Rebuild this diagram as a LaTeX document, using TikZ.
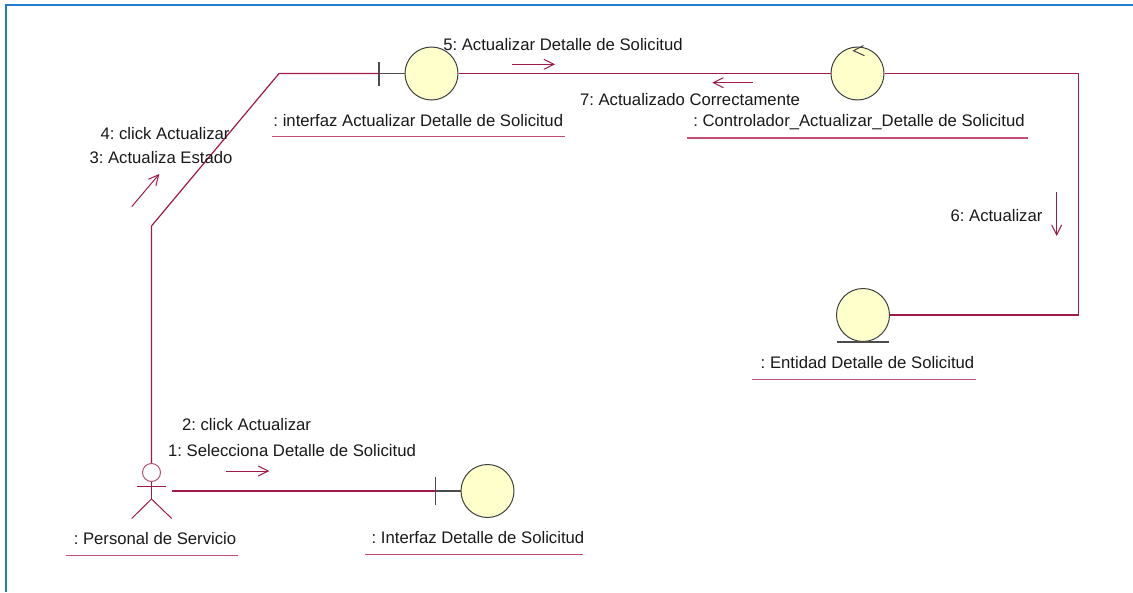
\documentclass[tikz,border=0pt]{standalone}
\usepackage{fontspec}
\setmainfont{Liberation Sans}
\frenchspacing
\usetikzlibrary{arrows.meta}
\definecolor{linkred}{RGB}{160,25,75}
\definecolor{ulred}{RGB}{200,75,115}
\definecolor{objfill}{RGB}{255,255,204}
\definecolor{frameblue}{RGB}{30,125,205}
\begin{document}
\begin{tikzpicture}[x=1pt,y=-1pt,
  lbl/.style={font=\fontsize{16.7}{20}\selectfont, inner sep=0pt, anchor=base, text=black!90},
  link/.style={draw=linkred, line width=1.2pt},
  uline/.style={draw=ulred, line width=1.2pt},
  obj/.style={circle, draw=black!75, fill=objfill, line width=1pt, minimum size=53pt, inner sep=0pt},
  stem/.style={draw=black!70, line width=1.2pt},
  msg/.style={draw=linkred, line width=1pt, -{Straight Barb[length=10pt,width=10pt,line width=1pt]}}
]
\useasboundingbox (0,0) rectangle (1133,592);
% frame
\draw[frameblue, line width=2pt] (5.5,592) -- (5.5,4.5) -- (1133,4.5);

% objects
\node[obj] (b1) at (431.5,73.5) {};
\node[obj] (ctl) at (857.5,73.5) {};
\node[obj] (ent) at (863,315) {};
\node[obj] (b2) at (487.5,491) {};

% boundary stems
\coordinate (b1t) at (379,73.5);
\draw[stem] (b1t) -- (b1.west);
\draw[stem] ([yshift=-12]b1t) -- ([yshift=12]b1t);
\coordinate (b2t) at (435.7,491);
\draw[stem] (b2t) -- (b2.west);
\draw[stem] ([yshift=-13.5]b2t) -- ([yshift=14.5]b2t);
% control arrow
\draw[black!75, line width=1pt] (863.5,45.5) -- (853.5,50.7) -- (864.5,55.7);
% entity base line
\draw[stem] ([xshift=-26]ent.south) -- ([xshift=26]ent.south);

% actor
\node[circle, draw=linkred!75, minimum size=18pt, inner sep=0pt, line width=1pt] (head) at (151.5,472.5) {};
\coordinate (hip) at (151.5,499);
\draw[linkred, line width=1pt] (head.south) -- (hip);
\draw[linkred, line width=1pt] (136.7,486) -- (166,486);
\draw[linkred, line width=1pt] (131.7,518.5) -- (hip) -- (171.7,518.5);
\coordinate (actR) at (171.7,491);

% links
\coordinate (bendA) at (151.5,226);
\coordinate (bendB) at (279,73.5);
\draw[link] (head.north) -- (bendA) -- (bendB) -- (b1t);
\draw[link] (b1.east) -- (ctl.west);
\coordinate (rc) at (1078.5,315);
\draw[link] (ctl.east) -| (rc) -- (ent.east);
\draw[link] (actR) -- (b2t);

% message arrows
\draw[msg] (512,64.3) -- (555,64.3);
\draw[msg] (752.7,82.7) -- (712.3,82.7);
\draw[msg] (1056.7,192) -- (1056.7,236);
\draw[msg] (131.7,206.7) -- (159.3,174);
\draw[msg] (226,471) -- (269.3,471);

% message labels
\node[lbl] (m5) at (563,50) {5: Actualizar Detalle de Solicitud};
\node[lbl] (m7) at (690,105) {7: Actualizado Correctamente};
\node[lbl] (m6) at (996.5,221) {6: Actualizar};
\node[lbl] (m4) at (165,139) {4: click Actualizar};
\node[lbl] (m3) at (161,163) {3: Actualiza Estado};
\node[lbl] (m2) at (246.5,430) {2: click Actualizar};
\node[lbl] (m1) at (292,456) {1: Selecciona Detalle de Solicitud};

% object names
\node[lbl] (n1) at (418.3,126) {: interfaz Actualizar Detalle de Solicitud};
\draw[uline] (271.7,136.7) -- (565,136.7);
\node[lbl] (n2) at (859,126) {: Controlador\_Actualizar\_Detalle de Solicitud};
\draw[uline] (687.3,138) -- (1028.3,138);
\node[lbl] (n3) at (867.5,368) {: Entidad Detalle de Solicitud};
\draw[uline] (751.7,379.3) -- (975.7,379.3);
\node[lbl] (n4) at (155,544) {: Personal de Servicio};
\draw[uline] (65.7,555.7) -- (238.3,555.7);
\node[lbl] (n5) at (478,543) {: Interfaz Detalle de Solicitud};
\draw[uline] (365,554.3) -- (582.7,554.3);
\end{tikzpicture}
\end{document}
